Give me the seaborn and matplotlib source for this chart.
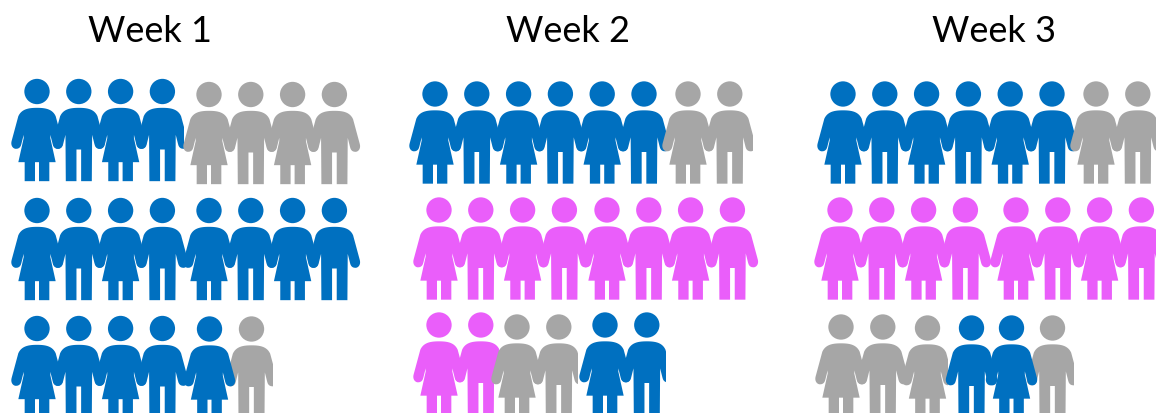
import numpy as np
import pandas as pd
import matplotlib
matplotlib.use("Agg")
import matplotlib.pyplot as plt
from matplotlib.path import Path
from matplotlib.patches import Rectangle
import seaborn as sns

# ---- data: each row is a list of runs of people (group, how many) ----
weeks = ["Week 1", "Week 2", "Week 3"]
week1_rows = [
    [("blue", 4), ("grey", 4)],
    [("blue", 4), ("blue", 4)],
    [("blue", 4), ("blue", 1), ("grey", 1)],
]
week2_rows = [
    [("blue", 6), ("grey", 2)],
    [("pink", 4), ("pink", 4)],
    [("pink", 2), ("grey", 2), ("blue", 2)],
]
week3_rows = [
    [("blue", 6), ("grey", 2)],
    [("pink", 4), ("pink", 4)],
    [("grey", 2), ("grey", 1), ("blue", 1), ("blue", 1), ("grey", 1)],
]

# ---- layout (pixels): each run's start, head height, right crop, layer ----
PITCH = 41.8
week1_layout = [
    [(37, 92.5, 184, 2), (209, 95.5, None, 2)],
    [(37, 211.5, None, 2), (209, 211.5, None, 2)],
    [(37, 329.5, None, 2), (209, 329.5, None, 2), (251, 329.5, 272, 1)],
]
week2_layout = [
    [(435, 95, None, 2), (688, 95, 753, 2)],
    [(439, 211, None, 2), (607, 211, None, 2)],
    [(439, 326, 499, 2), (517, 328, 578, 2), (605, 326, 666, 2)],
]
week3_layout = [
    [(843, 95, None, 2), (1096, 95, None, 2)],
    [(840, 211, None, 2), (1016, 211, None, 2)],
    [(841, 328, None, 2), (927, 328, 947, 2), (971, 328, None, 2),
     (1011, 328, None, 2), (1052, 328, 1073, 1)],
]
title_x = [150.5, 567.5, 994.5]
palette = {"blue": "#0070C0", "pink": "#EA5EFA", "grey": "#A6A6A6"}


def bez(p0, p1, p2, p3, n=14):
    t = np.linspace(0, 1, n)[:, None]
    p0, p1, p2, p3 = map(np.array, (p0, p1, p2, p3))
    return (1-t)**3*p0 + 3*(1-t)**2*t*p1 + 3*(1-t)*t**2*p2 + t**3*p3


def figure_path(lower):
    """A person; units are thirds of a pixel, origin at the head centre."""
    upper = np.vstack([
        bez((0, 49), (24, 49), (46, 52), (56, 74)),
        [(76, 148)],
        bez((76, 148), (80, 162), (72, 172), (63, 172)),
        bez((63, 172), (54, 172), (49, 167), (47, 158), n=6),
        [(40, 130)],
    ])
    half = np.vstack([upper, np.array(lower, dtype=float)])
    mirrored = half[::-1] * [-1, 1]
    outline = np.vstack([half, mirrored[1:], half[:1]])
    mid = (-38.0 + 269.0) / 2
    outline = (outline - [0, mid]) * [1, -1]
    return Path.make_compound_path(Path.circle((0, mid), 38.0),
                                   Path(outline, closed=True))


dress = [(40, 140), (56, 212), (37, 212), (37, 269), (6, 269), (6, 212), (0, 212)]
trousers = [(39, 269), (7, 269), (7, 174), (0, 174)]
shapes = {"F": figure_path(dress), "M": figure_path(trousers)}

sns.set_theme(style="white")
plt.rcParams["font.family"] = ["Lato", "DejaVu Sans"]

fig = plt.figure(figsize=(11.56, 4.14), dpi=100)
ax = fig.add_axes([0, 0, 1, 1])

full_height_pt = (38.0 + 269.0) / 3 * 0.72
marker_area = full_height_pt ** 2
centre_drop = (269.0 - 38.0) / 2 / 3

for rows, layout in zip((week1_rows, week2_rows, week3_rows),
                        (week1_layout, week2_layout, week3_layout)):
    for row, runs in zip(rows, layout):
        col = 0
        for (group, count), (start, head_y, crop, layer) in zip(row, runs):
            df = pd.DataFrame({
                "x": [start + i * PITCH for i in range(count)],
                "y": [head_y + centre_drop] * count,
                "group": [group] * count,
                "kind": ["F" if (col + i) % 2 == 0 else "M" for i in range(count)],
            })
            col += count
            sns.scatterplot(data=df, x="x", y="y", hue="group", style="kind",
                            palette=palette, markers=shapes, s=marker_area,
                            linewidth=0, legend=False, ax=ax, zorder=layer)
            if crop is not None:
                clip = Rectangle((0, 0), crop, 414, transform=ax.transData)
                ax.collections[-1].set_clip_path(clip)

for name, x in zip(weeks, title_x):
    ax.text(x, 31, name, ha="center", va="center", fontsize=26, color="black")

ax.set_xlim(0, 1156)
ax.set_ylim(414, 0)
ax.axis("off")
fig.savefig("out.png", dpi=100, facecolor="white")
